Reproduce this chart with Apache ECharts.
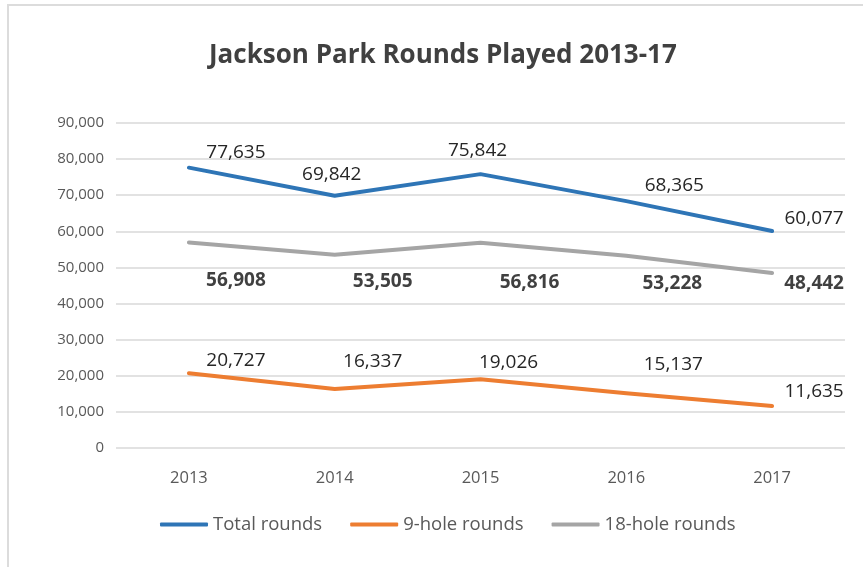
<!DOCTYPE html>
<html>
<head>
<meta charset="utf-8">
<style>
html,body{margin:0;padding:0;background:#fff;}
#chart{width:863px;height:567px;}
</style>
<script src="https://cdn.jsdelivr.net/npm/echarts@6/dist/echarts.min.js"></script>
</head>
<body>
<div id="chart"></div>
<script>
const years = ['2013','2014','2015','2016','2017'];
const totalRounds = [77635, 69842, 75842, 68365, 60077];
const nineHole = [20727, 16337, 19026, 15137, 11635];
const eighteenHole = [56908, 53505, 56816, 53228, 48442];

// label offsets (style only)
const totalOffsets = [[47,-15],[-3,-21],[-3,-24],[48,-16],[42,-12]];
const eighteenOffsets = [[47,38],[48,27],[49,40],[46,28],[42,11]];
const nineOffsets = [[47,-13],[38,-27],[28,-17],[47,-29],[42,-14]];

const fmt = v => v.toLocaleString('en-US');
const FONT = '"Open Sans", "Liberation Sans", sans-serif';

function build(values, offsets) {
  return values.map((v, i) => ({
    value: v,
    label: { offset: offsets[i] }
  }));
}

function series(name, values, offsets, color, bold) {
  return {
    name: name,
    type: 'line',
    data: build(values, offsets),
    symbol: 'circle',
    symbolSize: 1,
    showSymbol: true,
    lineStyle: { width: 4, color: color, cap: 'round', join: 'round' },
    itemStyle: { color: color },
    label: {
      show: true,
      position: 'inside',
      formatter: p => fmt(p.value),
      color: bold ? '#404040' : '#262626',
      fontWeight: bold ? 'bold' : 'normal',
      fontSize: 19,
      fontFamily: FONT
    },
    emphasis: { disabled: true },
    animation: false
  };
}

const chart = echarts.init(document.getElementById('chart'), null, { renderer: 'canvas' });
chart.setOption({
  backgroundColor: '#fff',
  animation: false,
  graphic: [
    { type: 'line', shape: { x1: 7, y1: 5, x2: 863, y2: 5 }, style: { stroke: '#dcdcdc', lineWidth: 2 }, silent: true, z: -10 },
    { type: 'line', shape: { x1: 8, y1: 4, x2: 8, y2: 567 }, style: { stroke: '#dcdcdc', lineWidth: 2 }, silent: true, z: -10 }
  ],
  title: {
    text: 'Jackson Park Rounds Played 2013-17',
    left: 204,
    top: 38,
    textStyle: { fontSize: 26, fontWeight: 'bold', color: '#404040', fontFamily: FONT }
  },
  legend: {
    bottom: 28,
    left: 155,
    icon: 'roundRect',
    itemWidth: 48,
    itemHeight: 4,
    itemGap: 28,
    textStyle: { fontSize: 18.5, color: '#595959', fontFamily: FONT },
    data: ['Total rounds', '9-hole rounds', '18-hole rounds']
  },
  grid: { left: 116, right: 18, top: 123, bottom: 119, containLabel: false },
  xAxis: {
    type: 'category',
    data: years,
    boundaryGap: true,
    axisLine: { show: false },
    axisTick: { show: false },
    axisLabel: { color: '#595959', fontSize: 16.5, fontFamily: FONT, margin: 22 }
  },
  yAxis: {
    type: 'value',
    min: 0, max: 90000, interval: 10000,
    axisLine: { show: false },
    axisTick: { show: false },
    axisLabel: { color: '#595959', fontSize: 15, fontFamily: FONT, margin: 12, formatter: v => fmt(v) },
    splitLine: { lineStyle: { color: '#d9d9d9', width: 1.5 } }
  },
  series: [
    series('Total rounds', totalRounds, totalOffsets, '#2E75B6', false),
    series('9-hole rounds', nineHole, nineOffsets, '#ED7D31', false),
    series('18-hole rounds', eighteenHole, eighteenOffsets, '#A5A5A5', true)
  ]
});
</script>
</body>
</html>
